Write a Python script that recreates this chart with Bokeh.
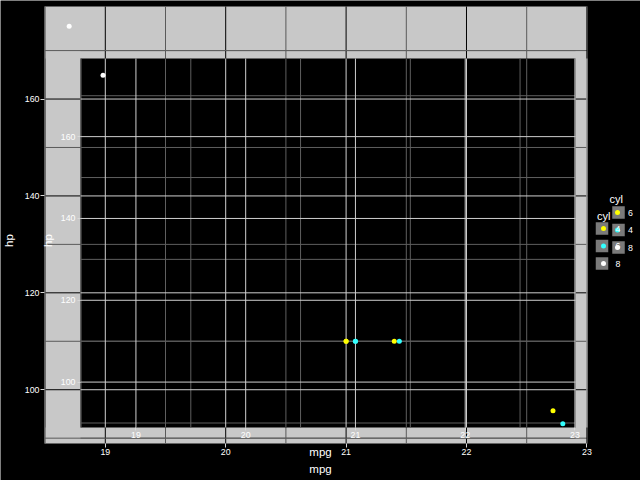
import numpy as np
from bokeh.plotting import figure
from bokeh.models import Range1d, FixedTicker, LinearAxis
from bokeh.embed import file_html
from bokeh.resources import INLINE
from bokeh.core.properties import value

# ---------------- data ----------------
car_mpg = [21.0, 21.0, 22.8, 21.4, 18.7]
car_hp = [110, 110, 93, 110, 175]
car_cyl = ["6", "6", "4", "6", "8"]

x_ticks = [19, 20, 21, 22, 23]
x_tick_labels = ["19", "20", "21", "22", "23"]
x_minor = [18.5, 19.5, 20.5, 21.5, 22.5]
y_ticks = [100, 120, 140, 160]
y_tick_labels = ["100", "120", "140", "160"]
y_minor = [90, 110, 130, 150, 170]

outer_legend_levels = ["6", "4", "8"]
inner_legend_levels = ["4", "6", "8"]
outer_colors = {"6": "#ffff00", "4": "#33ffff", "8": "#ffffff"}
inner_colors = {"4": "#ffff00", "6": "#33ffff", "8": "#ffffff"}

# ---------------- layout / style ----------------
FONT_NAME = "Liberation Sans"
FONT = value(FONT_NAME)
W, H = 640, 480
O_L, O_R, O_T, O_B = 44, 587, 6, 443      # outer panel (pixels)
I_L, I_R, I_T, I_B = 80, 575, 58, 427     # inner panel (pixels)
PANEL_GREY = "#c8c8c8"
MAJ_DARK, MIN_DARK = "#000000", "#5a5a5a"
MAJ_LIGHT, MIN_LIGHT = "#cfcfcf", "#5f5f5f"
TICK_COL = "#d9d9d9"
TICK_FS = "8.8px"
TITLE_FS = "11.5px"

# data limits with 5% expansion
xspan = max(car_mpg) - min(car_mpg)
yspan = max(car_hp) - min(car_hp)
xlo, xhi = min(car_mpg) - 0.05 * xspan, max(car_mpg) + 0.05 * xspan
ylo, yhi = min(car_hp) - 0.05 * yspan, max(car_hp) + 0.05 * yspan

# units per pixel for outer and inner panels
ox = (xhi - xlo) / (O_R - O_L)
oy = (yhi - ylo) / (O_B - O_T)
ux = (xhi - xlo) / (I_R - I_L)
uy = (yhi - ylo) / (I_B - I_T)

p = figure(width=W, height=H,
           x_range=Range1d(xlo - O_L * ox, xhi + (W - O_R) * ox),
           y_range=Range1d(ylo - (H - O_B) * oy, yhi + O_T * oy),
           min_border=0, output_backend="svg", toolbar_location=None, title=None,
           x_axis_location=None, y_axis_location=None)
p.background_fill_color = "black"
p.border_fill_color = "black"
p.outline_line_color = None
p.grid.visible = False

p.extra_x_ranges = {"ix": Range1d(xlo - I_L * ux, xhi + (W - I_R) * ux),
                    "px": Range1d(0, W)}
p.extra_y_ranges = {"iy": Range1d(ylo - (H - I_B) * uy, yhi + I_T * uy),
                    "py": Range1d(H, 0)}

# ---------- outer panel ----------
p.quad(left=[xlo], right=[xhi], bottom=[ylo], top=[yhi], fill_color=PANEL_GREY,
       line_color=None)


def vlines(xs, col, xr, yr):
    n = len(xs)
    p.segment(x0=xs, x1=xs, y0=[ylo] * n, y1=[yhi] * n, x_range_name=xr,
              y_range_name=yr, line_color=col, line_width=1)


def hlines(ys, col, xr, yr):
    n = len(ys)
    p.segment(x0=[xlo] * n, x1=[xhi] * n, y0=ys, y1=ys, x_range_name=xr,
              y_range_name=yr, line_color=col, line_width=1)


vlines(x_minor, MIN_DARK, "default", "default")
hlines(y_minor, MIN_DARK, "default", "default")
vlines(x_ticks, MAJ_DARK, "default", "default")
hlines(y_ticks, MAJ_DARK, "default", "default")

# ---------- inner panel ----------
p.quad(left=[xlo], right=[xhi], bottom=[ylo], top=[yhi], x_range_name="ix",
       y_range_name="iy", fill_color="black", line_color=None)
# gridlines seen through the inner panel (outer grid + inner grid)
vlines(x_minor, MIN_LIGHT, "default", "iy")
vlines(x_minor, MIN_LIGHT, "ix", "iy")
hlines(y_minor, MIN_LIGHT, "ix", "default")
hlines(y_minor, MIN_LIGHT, "ix", "iy")
vlines(x_ticks, MAJ_LIGHT, "default", "iy")
vlines(x_ticks, MAJ_LIGHT, "ix", "iy")
hlines(y_ticks, MAJ_LIGHT, "ix", "default")
hlines(y_ticks, MAJ_LIGHT, "ix", "iy")

# ---------- axes ----------
outer_xaxis = LinearAxis(fixed_location=ylo)
outer_yaxis = LinearAxis(fixed_location=xlo)
inner_xaxis = LinearAxis(x_range_name="ix", fixed_location=ylo + (O_B - I_B) * oy)
inner_yaxis = LinearAxis(y_range_name="iy", fixed_location=xlo + (I_L - O_L) * ox)
for ax, side in ((outer_xaxis, "below"), (outer_yaxis, "left"),
                 (inner_xaxis, "below"), (inner_yaxis, "left")):
    p.add_layout(ax, side)


def style_axis(ax, ticks, minor, labels, tick_len, standoff, title, title_standoff):
    ax.ticker = FixedTicker(ticks=ticks, minor_ticks=minor)
    ax.major_label_overrides = {t: l for t, l in zip(ticks, labels)}
    ax.axis_line_color = None
    ax.major_tick_line_color = TICK_COL
    ax.major_tick_out = tick_len
    ax.major_tick_in = 0
    ax.minor_tick_out = 0
    ax.minor_tick_in = 0
    ax.major_label_text_color = "white"
    ax.major_label_text_font = FONT_NAME
    ax.major_label_text_font_size = TICK_FS
    ax.major_label_standoff = standoff
    ax.axis_label = title
    ax.axis_label_text_color = "white"
    ax.axis_label_text_font = FONT_NAME
    ax.axis_label_text_font_size = TITLE_FS
    ax.axis_label_text_font_style = "normal"
    ax.axis_label_standoff = title_standoff


style_axis(outer_xaxis, x_ticks, x_minor, x_tick_labels, 4, 1, "mpg", 5)
style_axis(outer_yaxis, y_ticks, y_minor, y_tick_labels, 4, 1, "hp", 7)
style_axis(inner_xaxis, x_ticks, x_minor, x_tick_labels, 3, 1, "mpg", 5)
style_axis(inner_yaxis, y_ticks, y_minor, y_tick_labels, 3, 2, "hp", 4)

# ---------- points ----------
p.scatter(x=car_mpg, y=car_hp, size=5, line_color=None,
          fill_color=[outer_colors[c] for c in car_cyl])
p.scatter(x=car_mpg, y=car_hp, size=5, line_color=None,
          fill_color=[inner_colors[c] for c in car_cyl], x_range_name="ix", y_range_name="iy")

# ---------- legends (pixel ranges) ----------
STEP = 17.5
KEY = 12.5


def draw_legend(levels, colors, key_x, first_y, title_x, title_y, label_x, dot_dx):
    ys = [first_y + i * STEP for i in range(len(levels))]
    n = len(levels)
    kw = dict(x_range_name="px", y_range_name="py")
    p.rect(x=[key_x] * n, y=ys, width=KEY, height=KEY, fill_color="#7a7a7a",
           line_color=None, **kw)
    p.scatter(x=[key_x + dot_dx] * n, y=ys, size=5, line_color=None,
              fill_color=[colors[c] for c in levels], **kw)
    p.text(x=[label_x] * n, y=ys, text=levels, text_align="left", text_baseline="middle",
           text_color="white", text_font=FONT, text_font_size=value(TICK_FS), **kw)
    p.text(x=[title_x], y=[title_y], text=["cyl"], text_align="left",
           text_baseline="middle", text_color="white", text_font=FONT,
           text_font_size=value("11px"), **kw)


draw_legend(outer_legend_levels, outer_colors, 618, 212, 609, 198, 627.5, -1)
draw_legend(inner_legend_levels, inner_colors, 601.5, 228, 596.5, 215, 615, 1.5)

open("out.html", "w").write(file_html(p, INLINE))
